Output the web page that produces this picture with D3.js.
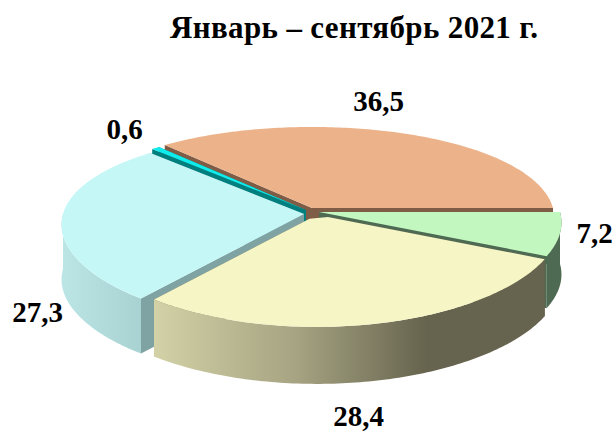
<!DOCTYPE html>
<html><head><meta charset="utf-8">
<script src="https://cdn.jsdelivr.net/npm/d3@7"></script>
<style>html,body{margin:0;padding:0;background:#fff}svg{display:block}</style>
</head><body><svg id="c" width="616" height="432"></svg>
<script>
const titleText = "Январь – сентябрь 2021 г.";
const categories = ["a","b","c","d","e"];
const values = [36.5, 7.2, 28.4, 27.3, 0.6];
const valueLabels = ["36,5","7,2","28,4","27,3","0,6"];

const topColors  = ["#ecb28a","#c3f7c0","#f6f5c5","#c5f7f7","#10ecec"];
const faceColors = ["#7f5c46","#4f6a52","#66634e","#7fa3a3","#007f7f"];
const wallStops = [
  [["0%","#8f6a52"],["100%","#7f5c46"]],
  [["0%","#4f6a52"],["100%","#4f6a52"]],
  [["0%","#d3d1a6"],["36%","#a6a482"],["70%","#66634e"],["100%","#66634e"]],
  [["0%","#bce6e6"],["100%","#a6cfcf"]],
  [["0%","#007f7f"],["100%","#007f7f"]]
];
const shiftX = [7,14,12,-1,1];
const shiftY = [-4,0,3,2,-2];
const innerR = [0,0,0.05,0,0];
const depth = [55,52,57,55,55];
const labelX = [378.5,594.5,358.5,37.5,124.5];
const labelY = [111,243,426,322,139];

const hub = {x:305, y:212}, R = 241, RT = 94, K = 0.16, KX = 0.11;
const svg = d3.select("#c");
const defs = svg.append("defs");

// perspective mapping of a point on the tilted disc
function proj(a, r, sx, sy, dz){
  const X = Math.sin(a)*r, Y = Math.cos(a)*r;
  return [hub.x+sx+X*R/(1+KX*Y), hub.y+sy-Y*RT/(1+K*Y)+dz];
}
const pie = d3.pie().sort(null).startAngle(-41.4*Math.PI/180).endAngle((360-41.4)*Math.PI/180);
const arcs = pie(values);
const line = d3.line();

function arcPts(i,dz,from,to){
  const n = Math.max(3,Math.ceil((to-from)*60));
  return d3.range(n+1).map(k=>proj(from+(to-from)*k/n,1,shiftX[i],shiftY[i],dz));
}
const order = [0,4,1,3,2];
order.forEach(i=>{
  const d = arcs[i], sx=shiftX[i], sy=shiftY[i], r0=innerR[i], H=depth[i];
  const gid = "wall"+i;
  const xs = arcPts(i,0,d.startAngle,d.endAngle).map(p=>p[0]);
  const g = defs.append("linearGradient").attr("id",gid).attr("gradientUnits","userSpaceOnUse")
    .attr("x1",d3.min(xs)).attr("x2",d3.max(xs)).attr("y1",0).attr("y2",0);
  wallStops[i].forEach(s=>g.append("stop").attr("offset",s[0]).attr("stop-color",s[1]));

  const c0 = proj(d.startAngle,r0,sx,sy,0), c1 = proj(d.endAngle,r0,sx,sy,0);
  const c0b = proj(d.startAngle,r0,sx,sy,H), c1b = proj(d.endAngle,r0,sx,sy,H);
  const p0 = proj(d.startAngle,1,sx,sy,0), p0b = proj(d.startAngle,1,sx,sy,H);
  const p1 = proj(d.endAngle,1,sx,sy,0), p1b = proj(d.endAngle,1,sx,sy,H);
  [[c0,p0,p0b,c0b],[c1,p1,p1b,c1b]].forEach(q=>{
    svg.append("path").attr("d",line(q)+"Z").attr("fill",faceColors[i]);
  });
  const lo = Math.max(d.startAngle,Math.PI/2), hi = Math.min(d.endAngle,3*Math.PI/2);
  if (hi>lo){
    const top = arcPts(i,0,lo,hi), bot = arcPts(i,H,lo,hi).reverse();
    svg.append("path").attr("d",line(top.concat(bot))+"Z").attr("fill",`url(#${gid})`);
  }
  const pts = [c0].concat(arcPts(i,0,d.startAngle,d.endAngle),[c1]);
  svg.append("path").attr("d",line(pts)+"Z").attr("fill",topColors[i]);
});

svg.append("text").attr("x",170).attr("y",38).attr("textLength",368).attr("lengthAdjust","spacing")
  .attr("font-family","'Liberation Serif'").attr("font-weight","bold").attr("font-size",31)
  .attr("fill","#000").text(titleText);
svg.selectAll("text.v").data(valueLabels).join("text").attr("class","v")
  .attr("x",(d,i)=>labelX[i]).attr("y",(d,i)=>labelY[i]).attr("text-anchor","middle")
  .attr("font-family","'Liberation Serif'").attr("font-weight","bold").attr("font-size",29)
  .attr("fill","#000").text(d=>d);
</script></body></html>
